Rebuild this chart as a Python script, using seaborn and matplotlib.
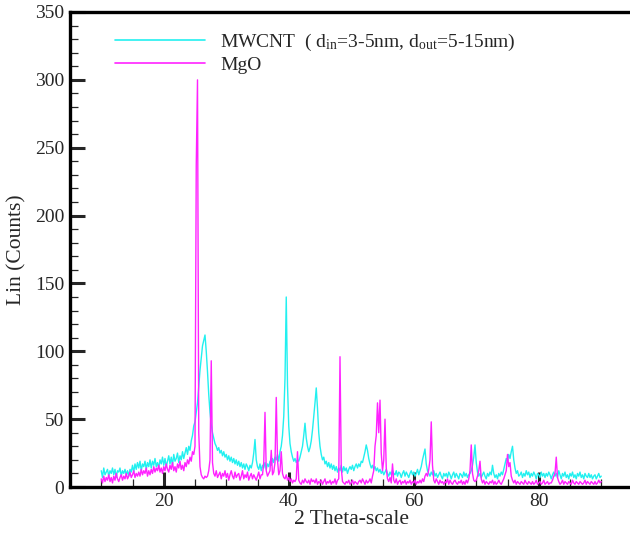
import numpy as np
import pandas as pd
import seaborn as sns
import matplotlib.pyplot as plt
from matplotlib.lines import Line2D
from matplotlib.ticker import MultipleLocator

# 2-theta grid, 0.2 deg step, 10 -> 90
two_theta = np.round(np.arange(10.0, 90.01, 0.2), 1)

# MWCNT counts (cyan) in 20 deg blocks
mwcnt_10_30 = [12, 7, 14, 9, 11, 13, 8, 12, 10, 14, 9, 13, 7, 12, 11, 14, 8, 12, 10, 13,
               9, 12, 8, 13, 11, 16, 11, 17, 13, 18, 14, 19, 12, 17, 15, 19, 13, 18, 15, 20,
               14, 19, 16, 21, 15, 18, 14, 20, 17, 22, 16, 21, 15, 19, 23, 17, 22, 16, 24, 19,
               21, 25, 18, 23, 20, 26, 21, 25, 29, 24, 30, 27, 34, 38, 45, 48, 55, 62, 74, 86,
               95, 104, 108, 112, 100, 85, 68, 55, 46, 40, 36, 32, 30, 27, 29, 25, 27, 23, 26, 22]
mwcnt_30_50 = [24, 20, 23, 19, 22, 18, 21, 17, 20, 16, 19, 15, 18, 14, 17, 13, 17, 15, 12, 16,
               14, 18, 25, 35, 20, 15, 13, 17, 12, 16, 14, 18, 13, 17, 15, 19, 16, 21, 18, 22,
               20, 24, 19, 26, 30, 38, 52, 80, 140, 75, 45, 32, 26, 22, 19, 21, 18, 20, 19, 22,
               26, 30, 38, 47, 36, 30, 26, 29, 34, 42, 52, 62, 73, 58, 40, 30, 24, 20, 22, 17,
               19, 15, 18, 14, 17, 13, 16, 12, 15, 11, 14, 12, 16, 11, 15, 12, 14, 10, 13, 15]
mwcnt_50_70 = [13, 16, 12, 15, 17, 14, 17, 15, 19, 18, 22, 26, 31, 27, 21, 17, 14, 16, 13, 15,
               12, 14, 11, 13, 10, 12, 9, 11, 13, 10, 8, 11, 9, 12, 10, 9, 12, 8, 11, 10,
               7, 10, 12, 8, 11, 9, 7, 10, 12, 9, 11, 8, 10, 13, 9, 12, 15, 20, 24, 28,
               17, 12, 10, 8, 11, 9, 12, 8, 10, 7, 9, 11, 8, 6, 10, 8, 10, 7, 11, 9,
               6, 9, 11, 7, 10, 8, 6, 10, 9, 7, 11, 8, 10, 7, 9, 10, 12, 16, 22, 31]
mwcnt_70_90 = [18, 11, 8, 10, 7, 9, 11, 8, 6, 10, 8, 11, 9, 16, 10, 7, 9, 6, 10, 8,
               11, 9, 13, 17, 21, 19, 24, 21, 26, 30, 20, 14, 10, 12, 8, 9, 11, 7, 10, 8,
               12, 9, 11, 7, 10, 8, 11, 9, 6, 10, 9, 7, 11, 8, 10, 7, 10, 8, 11, 9,
               6, 9, 11, 8, 10, 7, 12, 9, 6, 10, 8, 11, 7, 9, 6, 10, 8, 11, 7, 9,
               6, 10, 8, 11, 7, 9, 6, 10, 8, 7, 10, 7, 9, 6, 8, 9, 6, 8, 10, 7, 8]

# MgO counts (magenta)
mgo_10_30 = [6, 3, 8, 4, 7, 5, 9, 4, 7, 3, 8, 5, 10, 6, 4, 7, 9, 5, 8, 6,
             10, 6, 8, 11, 7, 9, 12, 7, 10, 8, 11, 8, 13, 9, 12, 10, 14, 8, 12, 9,
             13, 10, 15, 11, 14, 12, 16, 11, 14, 10, 15, 12, 17, 13, 11, 16, 13, 18, 12, 15,
             11, 17, 14, 19, 13, 16, 12, 18, 15, 20, 17, 22, 19, 26, 24, 30, 237, 300, 40, 15,
             9, 7, 6, 8, 7, 8, 12, 20, 93, 18, 10, 8, 12, 7, 9, 11, 6, 10, 8, 12]
mgo_30_50 = [7, 10, 5, 9, 12, 8, 6, 11, 7, 9, 10, 5, 8, 12, 6, 9, 7, 11, 5, 8,
             10, 6, 9, 7, 5, 8, 11, 6, 9, 9, 18, 55, 12, 8, 10, 12, 27, 9, 11, 18,
             66, 20, 9, 12, 26, 10, 7, 6, 9, 5, 7, 4, 6, 3, 5, 4, 6, 26, 5, 3,
             2, 5, 3, 6, 4, 3, 5, 2, 6, 4, 5, 3, 6, 2, 4, 3, 5, 2, 4, 6,
             2, 4, 3, 5, 2, 4, 3, 6, 2, 5, 6, 96, 14, 4, 3, 2, 4, 3, 5, 2]
mgo_50_70 = [3, 5, 2, 4, 3, 2, 4, 5, 3, 6, 4, 2, 5, 3, 4, 6, 3, 8, 12, 30,
             38, 62, 40, 64, 25, 12, 20, 50, 14, 6, 4, 7, 3, 17, 5, 3, 6, 2, 4, 5,
             2, 4, 3, 5, 2, 4, 3, 5, 2, 4, 3, 5, 2, 4, 3, 5, 3, 6, 4, 8,
             10, 8, 13, 20, 48, 16, 5, 3, 6, 4, 2, 5, 3, 4, 2, 4, 3, 6, 2, 5,
             3, 2, 4, 5, 3, 2, 4, 3, 5, 2, 4, 2, 5, 3, 6, 12, 31, 10, 5, 4]
mgo_70_90 = [5, 8, 12, 19, 6, 3, 5, 2, 4, 3, 2, 4, 3, 5, 2, 4, 2, 3, 5, 3,
             2, 4, 6, 9, 12, 24, 15, 18, 8, 5, 3, 5, 2, 4, 3, 2, 4, 3, 2, 5,
             3, 2, 4, 3, 2, 4, 2, 3, 5, 2, 3, 4, 2, 3, 5, 2, 3, 4, 2, 3,
             3, 5, 8, 10, 22, 7, 4, 2, 3, 5, 2, 4, 3, 2, 4, 3, 2, 5, 3, 2,
             4, 3, 2, 4, 3, 2, 3, 5, 2, 4, 3, 2, 4, 3, 2, 4, 2, 3, 5, 3, 4]

mwcnt = mwcnt_10_30 + mwcnt_30_50 + mwcnt_50_70 + mwcnt_70_90
mgo = mgo_10_30 + mgo_30_50 + mgo_50_70 + mgo_70_90

df = pd.concat([
    pd.DataFrame({"theta": two_theta, "counts": mwcnt, "sample": "MWCNT"}),
    pd.DataFrame({"theta": two_theta, "counts": mgo, "sample": "MgO"}),
])

sns.set_style("white")
plt.rcParams["font.family"] = ["Liberation Serif", "DejaVu Serif"]
plt.rcParams["mathtext.fontset"] = "custom"
plt.rcParams["mathtext.rm"] = "Liberation Serif"
plt.rcParams["mathtext.it"] = "Liberation Serif:italic"

colors = {"MWCNT": "#22F0F0", "MgO": "#FF22FF"}

fig = plt.figure(figsize=(6.3, 5.35), dpi=100)
ax = fig.add_axes([70 / 630, 48 / 535, 562.5 / 630, 475 / 535])

sns.lineplot(data=df, x="theta", y="counts", hue="sample", hue_order=["MWCNT", "MgO"],
             palette=colors, estimator=None, sort=True, linewidth=1.0, ax=ax, legend=False)

ax.set_xlim(5, 95)
ax.set_ylim(0, 350)
ax.xaxis.set_major_locator(MultipleLocator(20))
ax.xaxis.set_minor_locator(MultipleLocator(5))
ax.yaxis.set_major_locator(MultipleLocator(50))
ax.yaxis.set_minor_locator(MultipleLocator(10))
ax.tick_params(which="major", direction="in", length=11, width=2.2, labelsize=14, pad=4)
ax.tick_params(which="minor", direction="in", length=6, width=0.9)
ax.tick_params(axis="both", which="both", left=True, bottom=True, top=False, right=False)
for s in ["left", "bottom", "top"]:
    ax.spines[s].set_linewidth(2.4)
    ax.spines[s].set_color("black")
ax.spines["right"].set_visible(False)

ax.set_xlabel("2 Theta-scale", fontsize=15.5, labelpad=0)
ax.set_ylabel("Lin (Counts)", fontsize=15.5, labelpad=6)

handles = [Line2D([], [], color=colors["MWCNT"], lw=1.2),
           Line2D([], [], color=colors["MgO"], lw=1.2)]
labels = [r"MWCNT  ( d$_{\mathrm{in}}$=3-5nm, d$_{\mathrm{out}}$=5-15nm)", "MgO"]
ax.legend(handles, labels, loc="upper left", bbox_to_anchor=(0.049, 0.995), frameon=False,
          fontsize=14, handlelength=4.6, handletextpad=0.8, labelspacing=0.15)

fig.savefig("out.png", dpi=100)
